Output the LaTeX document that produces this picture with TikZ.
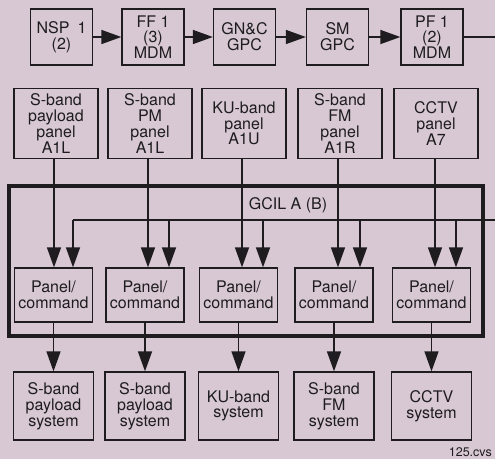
\documentclass[tikz,border=0pt]{standalone}
\usepackage{fontspec}
\setmainfont{TeX Gyre Heros}
\usetikzlibrary{arrows.meta}
\definecolor{bg}{RGB}{215,200,211}
\definecolor{ink}{RGB}{30,28,31}
\begin{document}
\begin{tikzpicture}[x=1pt,y=-1pt,
  txt/.style={text=ink, font=\fontsize{16}{15.8}\selectfont, align=center, inner sep=0pt},
  box/.style={txt, draw=ink, line width=1.3pt},
  topbox/.style={box, minimum width=62pt, minimum height=56pt},
  panelbox/.style={box, minimum width=84pt, minimum height=70pt},
  cmdbox/.style={box, minimum width=78pt, minimum height=54pt},
  sysbox/.style={box, minimum width=80pt, minimum height=68pt},
  wire/.style={draw=ink, line width=1.4pt},
  arr/.style={wire, -{Triangle[length=20pt,width=14pt]}},
  frame/.style={draw=ink, line width=3.8pt}
]
\fill[bg] (0,0) rectangle (495,459);
\useasboundingbox (0,0) rectangle (495,459);

% top chain
\node[topbox] (nsp) at (61.5,37) {NSP\enspace 1\\(2)};
\node[topbox] (ff)  at (153,37) {FF 1\\(3)\\MDM};
\node[topbox] (gnc) at (244.5,37) {GN\&C\\GPC};
\node[topbox] (sm)  at (337.5,37) {SM\\GPC};
\node[topbox] (pf)  at (432,37) {PF 1\\(2)\\MDM};
\coordinate (out) at (495,37);
\draw[arr] (nsp) -- (ff);
\draw[arr] (ff) -- (gnc);
\draw[arr] (gnc) -- (sm);
\draw[arr] (sm) -- (pf);
\draw[wire] (pf) -- (out);

% panels
\node[panelbox] (p1) at (56,123.5) {S-band\\payload\\panel\\A1L};
\node[panelbox] (p2) at (150,123.5) {S-band\\PM\\panel\\A1L};
\node[panelbox] (p3) at (244,123.5) {KU-band\\panel\\A1U};
\node[panelbox] (p4) at (340,123.5) {S-band\\FM\\panel\\A1R};
\node[panelbox] (p5) at (436,123.5) {CCTV\\panel\\A7};

% GCIL frame
\node[txt] (gcil) at (288,205) {GCIL A (B)};
\draw[frame] (9,186) rectangle (483,336);

% panel/command boxes
\node[cmdbox] (c1) at (53.5,295) {Panel/\\command};
\node[cmdbox] (c2) at (145,295) {Panel/\\command};
\node[cmdbox] (c3) at (238.5,295) {Panel/\\command};
\node[cmdbox] (c4) at (334,295) {Panel/\\command};
\node[cmdbox] (c5) at (431.5,295) {Panel/\\command};

% system boxes
\node[sysbox] (s1) at (53.5,406) {S-band\\payload\\system};
\node[sysbox] (s2) at (145,406) {S-band\\payload\\system};
\node[sysbox] (s3) at (238.5,406) {KU-band\\system};
\node[sysbox] (s4) at (334,406) {S-band\\FM\\system};
\node[sysbox] (s5) at (431.5,406) {CCTV\\system};

% panel lines
\coordinate (l1) at (54,0);
\coordinate (l2) at (148,0);
\coordinate (l3) at (242,0);
\coordinate (l4) at (338,0);
\coordinate (l5) at (435,0);
\draw[arr] (p1.south -| l1) -- (c1.north -| l1);
\draw[arr] (p2.south -| l2) -- (c2.north -| l2);
\draw[arr] (p3.south -| l3) -- (c3.north -| l3);
\draw[arr] (p4.south -| l4) -- (c4.north -| l4);
\draw[arr] (p5.south -| l5) -- (c5.north -| l5);

% bus
\coordinate (bus) at (495,220);
\coordinate (r1) at (73,220);
\coordinate (r2) at (169,220);
\coordinate (r3) at (263,220);
\coordinate (r4) at (360,220);
\coordinate (r5) at (456,220);
\draw[wire] (bus) -- (r1);
\draw[arr] (r1) -- (c1.north -| r1);
\draw[arr] (r2) -- (c2.north -| r2);
\draw[arr] (r3) -- (c3.north -| r3);
\draw[arr] (r4) -- (c4.north -| r4);
\draw[arr] (r5) -- (c5.north -| r5);

% outputs
\draw[arr] (c1) -- (s1);
\draw[arr] (c2) -- (s2);
\draw[arr] (c3) -- (s3);
\draw[arr] (c4) -- (s4);
\draw[arr] (c5) -- (s5);

\node[txt, font=\fontsize{12.5}{12.5}\selectfont, anchor=base east] (cvs) at (492,456) {125.cvs};
\end{tikzpicture}
\end{document}
